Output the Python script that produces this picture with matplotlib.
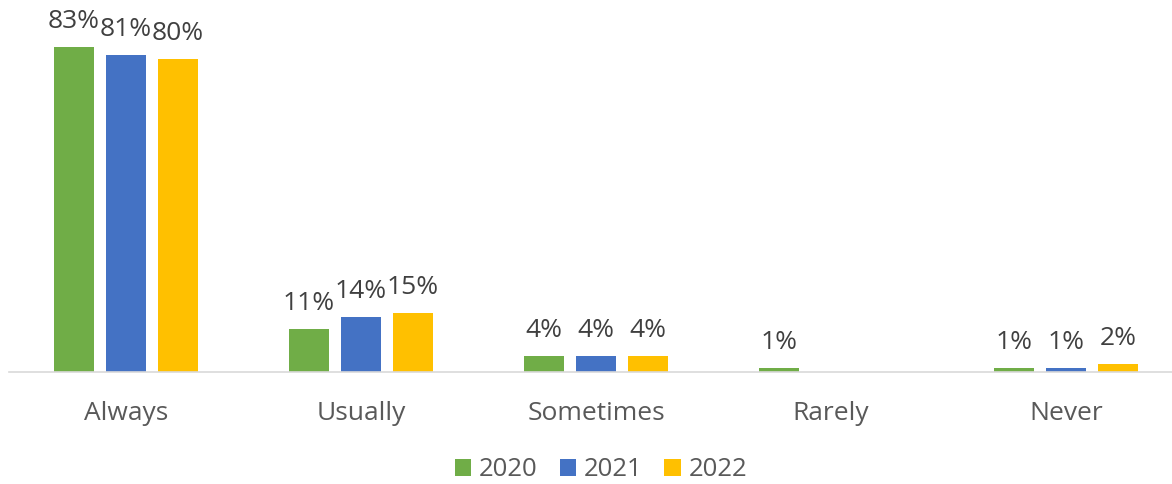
import numpy as np
import matplotlib.pyplot as plt
from matplotlib.patches import Patch

plt.rcParams['font.family'] = ['Open Sans', 'DejaVu Sans']

# Survey responses by year (percent)
categories = ["Always", "Usually", "Sometimes", "Rarely", "Never"]
years = ["2020", "2021", "2022"]
pct_2020 = [83, 11, 4, 1, 1]
pct_2021 = [81, 14, 4, np.nan, 1]
pct_2022 = [80, 15, 4, np.nan, 2]

series = [pct_2020, pct_2021, pct_2022]
colors = ["#70AD47", "#4472C4", "#FFC000"]

W, H = 1172, 484
fig = plt.figure(figsize=(W / 100, H / 100), dpi=100)
ax = fig.add_axes([8.5 / W, 112 / H, 1175 / W, 372 / H])

x = np.arange(len(categories))
width = 0.17
step = 0.221

for i, (vals, col) in enumerate(zip(series, colors)):
    pos = x + (i - 1) * step
    ax.bar(pos, vals, width, color=col, zorder=2)
    for px, v in zip(pos, vals):
        if not np.isnan(v):
            ax.text(px, v + 4.9, f"{v:.0f}%", ha="center", va="baseline",
                    fontsize=19, color="#404040")

ax.set_xlim(-0.5, 4.5)
ax.set_ylim(0, 95)
ax.set_yticks([])
ax.set_xticks(x)
ax.set_xticklabels(categories, fontsize=19, color="#595959")
ax.tick_params(axis="x", length=0, pad=21)
for side in ["top", "right", "left"]:
    ax.spines[side].set_visible(False)
ax.spines["bottom"].set_color("#D9D9D9")
ax.spines["bottom"].set_linewidth(1.2)

handles = [Patch(facecolor=c, label=y) for c, y in zip(colors, years)]
fig.legend(handles=handles, loc="center", bbox_to_anchor=(601 / W, 1 - 470 / H),
           ncol=3, frameon=False, fontsize=18.5, handlelength=0.65, handleheight=0.65,
           handletextpad=0.3, columnspacing=0.85, labelcolor="#595959")

fig.savefig("out.png", dpi=100)
